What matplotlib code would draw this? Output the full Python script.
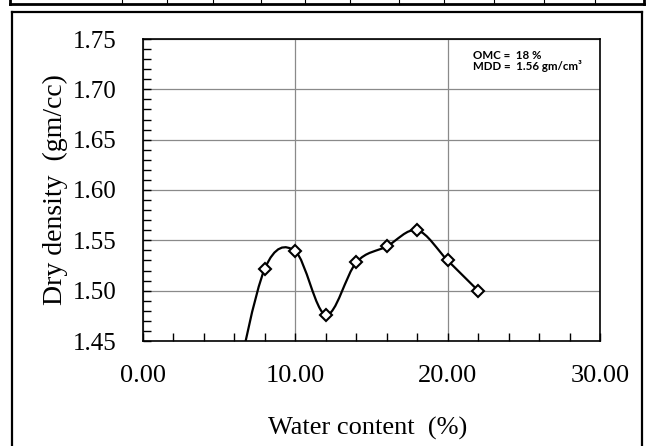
import matplotlib
matplotlib.use("Agg")
import matplotlib.pyplot as plt
from matplotlib.path import Path
from matplotlib.patches import PathPatch
from matplotlib.lines import Line2D
from matplotlib.ticker import MultipleLocator, FormatStrFormatter

# ---- data ----
water_content = [6, 8, 10, 12, 14, 16, 18, 20, 22]
dry_density = [1.400, 1.522, 1.539, 1.476, 1.528, 1.544, 1.560, 1.530, 1.500]
x_ticks = [0, 10, 20, 30]
y_ticks = [1.45, 1.50, 1.55, 1.60, 1.65, 1.70, 1.75]
x_label = "Water content  (%)"
y_label = "Dry density  (gm/cc)"
note_lines = ["OMC =  18 %", "MDD =  1.56 gm/cm\u00b3"]
table_dividers = [122, 167, 213, 261, 305, 350, 399, 444, 494, 544, 595]

W, H = 647, 446
fig = plt.figure(figsize=(W / 100, H / 100), dpi=100)
fig.patch.set_facecolor("white")

ax = fig.add_axes([143 / W, (H - 341) / H, 457 / W, 302 / H])
ax.set_xlim(0, 30)
ax.set_ylim(1.45, 1.75)

serif = ["Liberation Serif", "DejaVu Serif"]

# grid
ax.set_xticks(x_ticks)
ax.set_yticks(y_ticks)
ax.xaxis.set_minor_locator(MultipleLocator(2))
ax.yaxis.set_minor_locator(MultipleLocator(0.01))
ax.xaxis.set_major_formatter(FormatStrFormatter("%.2f"))
ax.yaxis.set_major_formatter(FormatStrFormatter("%.2f"))
ax.grid(True, which="major", color="#8a8a8a", linewidth=0.9)
ax.set_axisbelow(True)
ax.tick_params(which="both", direction="in", length=6, width=1, color="black",
               top=False, right=False)
ax.tick_params(axis="y", which="major", pad=19, labelsize=18)
ax.tick_params(axis="x", which="major", pad=17, labelsize=19)
for lab in ax.get_xticklabels() + ax.get_yticklabels():
    lab.set_family(serif)
for sp in ax.spines.values():
    sp.set_linewidth(1.2)
    sp.set_color("black")

# smoothed (Excel-like Catmull-Rom Bezier) curve built from the data
pts = list(zip(water_content, dry_density))
verts = [pts[0]]
codes = [Path.MOVETO]
n = len(pts)
for i in range(n - 1):
    p0 = pts[i - 1] if i > 0 else pts[i]
    p1 = pts[i]
    p2 = pts[i + 1]
    p3 = pts[i + 2] if i + 2 < n else pts[i + 1]
    c1 = (p1[0] + (p2[0] - p0[0]) / 6, p1[1] + (p2[1] - p0[1]) / 6)
    c2 = (p2[0] - (p3[0] - p1[0]) / 6, p2[1] - (p3[1] - p1[1]) / 6)
    verts += [c1, c2, p2]
    codes += [Path.CURVE4] * 3
ax.add_patch(PathPatch(Path(verts, codes), facecolor="none", edgecolor="black",
                       linewidth=1.6, zorder=3))
ax.plot(water_content, dry_density, linestyle="none", marker="D", markersize=6,
        markerfacecolor="white", markeredgecolor="black", markeredgewidth=1.5,
        zorder=4)

# annotation
note_font = ["Lato", "DejaVu Sans"]
ax.text(0.722, 0.947, note_lines[0], transform=ax.transAxes, fontsize=8.3,
        fontweight="bold", family=note_font, va="center", ha="left")
ax.text(0.722, 0.910, note_lines[1], transform=ax.transAxes, fontsize=8.3,
        fontweight="bold", family=note_font, va="center", ha="left")

# axis titles
fig.text(368 / W, 1 - 428 / H, x_label, fontsize=19, family=serif,
         ha="center", va="center")
fig.text(55 / W, 1 - 190 / H, y_label, fontsize=20, family=serif,
         ha="center", va="center", rotation=90)

# outer chart frame
def fig_line(xs, ys, lw):
    fig.add_artist(Line2D([x / W for x in xs], [1 - y / H for y in ys],
                          color="black", linewidth=lw, solid_capstyle="projecting"))

fig_line([12, 12], [12, H + 5], 1.6)
fig_line([12, 642], [12, 12], 1.6)
fig_line([642, 642], [12, H + 5], 1.6)

# table strip at the top
fig_line([10, 644], [4, 4], 2.0)
fig_line([10, 10], [-2, 4], 2.0)
fig_line([644, 644], [-2, 4], 2.0)
for xd in table_dividers:
    fig_line([xd, xd], [-2, 4], 0.8)

fig.savefig("out.png", dpi=100)
